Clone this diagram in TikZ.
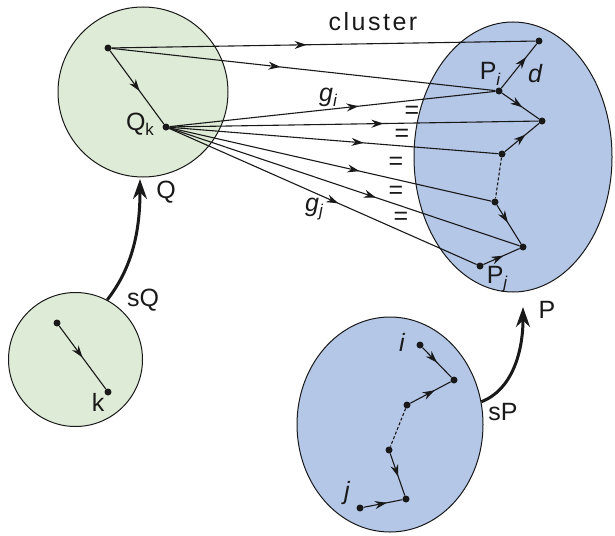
\documentclass[tikz,border=0pt]{standalone}
\usepackage{fontspec}
\setmainfont{Liberation Sans}
\usetikzlibrary{arrows.meta,decorations.markings,shapes.geometric}
\definecolor{qgreen}{RGB}{222,235,214}
\definecolor{pblue}{RGB}{180,199,231}
\definecolor{ink}{RGB}{25,25,25}
\newcommand{\sbs}[1]{\raisebox{-0.4ex}{\fontsize{17}{17}\selectfont #1}}
\begin{document}
\begin{tikzpicture}[x=1pt,y=-1pt,
  lbl/.style={font=\fontsize{25}{27}\selectfont, text=ink, inner sep=0pt},
  eqs/.style={font=\fontsize{25}{27}\selectfont, text=ink, inner sep=0pt},
  dot/.style={circle, fill=ink, inner sep=0pt, minimum size=7pt},
  region/.style={draw=ink, line width=1pt, inner sep=0pt},
  conn/.style={draw=ink, line width=1.1pt},
  midarrow/.style={postaction={decorate, decoration={markings, mark=at position #1 with {\arrow{Stealth[length=12pt,width=8pt]}}}}},
  midarrow/.default=0.5,
  dashconn/.style={draw=ink, line width=1.1pt, dash pattern=on 3pt off 2pt},
  bigarrow/.style={draw=ink, line width=3pt, -{Stealth[length=20pt,width=14pt]}}
]
\useasboundingbox (0,0) rectangle (615,535);

% regions
\node[region, circle, fill=qgreen, minimum size=170pt] (Q) at (143,92) {};
\node[region, circle, fill=qgreen, minimum size=134pt] (q) at (75.5,359.5) {};
\node[region, ellipse, fill=pblue, minimum width=198pt, minimum height=270pt] (P) at (513,157) {};
\node[region, ellipse, fill=pblue, minimum width=186pt, minimum height=215pt] (p) at (390,424.5) {};

% dots in Q
\node[dot] (qa) at (108,48) {};
\node[dot] (Qk) at (166,127) {};
% dots in small q
\node[dot] (qb) at (57,323) {};
\node[dot] (qk) at (108,392) {};
% dots in P
\node[dot] (P1) at (539,41) {};
\node[dot] (Pi) at (499,91) {};
\node[dot] (P2) at (542,121) {};
\node[dot] (P3) at (502,154) {};
\node[dot] (P4) at (495,202) {};
\node[dot] (P5) at (523,247) {};
\node[dot] (Pj) at (480,266) {};
% dots in small p
\node[dot] (pi) at (420,345) {};
\node[dot] (p2) at (454,380) {};
\node[dot] (p3) at (407,405) {};
\node[dot] (p4) at (389,450) {};
\node[dot] (p5) at (406,499) {};
\node[dot] (pj) at (360,508) {};

% Q chain
\draw[conn, midarrow=0.55] (qa) -- (Qk);
\draw[conn, midarrow=0.5] (qb) -- (qk);

% cluster lines
\draw[conn, midarrow=0.46] (qa) -- (P1);
\draw[conn, midarrow=0.44] (qa) -- (Pi);
\draw[conn, midarrow=0.58] (Qk) -- (Pi);
\draw[conn, midarrow=0.58] (Qk) -- (P2);
\draw[conn, midarrow=0.59] (Qk) -- (P3);
\draw[conn, midarrow=0.59] (Qk) -- (P4);
\draw[conn, midarrow=0.59] (Qk) -- (P5);
\draw[conn, midarrow=0.55] (Qk) -- (Pj);

% P chain
\draw[conn, midarrow=0.7] (Pi) -- (P1);
\draw[conn, midarrow=0.55] (Pi) -- (P2);
\draw[conn, midarrow=0.6] (P3) -- (P2);
\draw[dashconn] (P3) -- (P4);
\draw[conn, midarrow=0.45] (P4) -- (P5);
\draw[conn, midarrow=0.55] (Pj) -- (P5);

% p chain
\draw[conn, midarrow=0.5] (pi) -- (p2);
\draw[conn, midarrow=0.6] (p3) -- (p2);
\draw[dashconn] (p3) -- (p4);
\draw[conn, midarrow=0.55] (p4) -- (p5);
\draw[conn, midarrow=0.6] (pj) -- (p5);

% thick arrows
\coordinate (Qtip) at (140,179);
\coordinate (Ptip) at (523,307);
\draw[bigarrow] (q.62) .. controls (132,268) and (140,232) .. (Qtip);
\draw[bigarrow] (p.14) .. controls (512,390) and (523,352) .. (Ptip);

% labels
\node[lbl] (lQk) at (140,124) {Q\sbs{k}};
\node[lbl] (lQ) at (166,192) {Q};
\node[lbl] (lsQ) at (143,300) {sQ};
\node[lbl] (lk) at (98,402) {k};
\node[lbl, font=\fontsize{25}{27}\selectfont\addfontfeature{LetterSpace=10}] (lcl) at (373,22) {cluster};
\node[lbl] (lPi) at (490,74) {P\sbs{\itshape i}};
\node[lbl] (ld) at (535,74) {\itshape d};
\node[lbl] (lgi) at (328,97) {\itshape g\sbs{i}};
\node[lbl] (lgj) at (314,209) {\itshape g\sbs{j}};
\node[lbl] (lPj) at (497,279) {P\sbs{\itshape j}};
\node[lbl] (lP) at (547,310) {P};
\node[lbl] (lsP) at (503,412) {sP};
\node[lbl] (li) at (402,342) {\itshape i};
\node[lbl] (lj) at (347,493) {\itshape j};

% equal signs
\node[eqs] (e1) at (412,112) {=};
\node[eqs] (e2) at (402,135) {=};
\node[eqs] (e3) at (396,163) {=};
\node[eqs] (e4) at (396,192) {=};
\node[eqs] (e5) at (401,218) {=};
\end{tikzpicture}
\end{document}
